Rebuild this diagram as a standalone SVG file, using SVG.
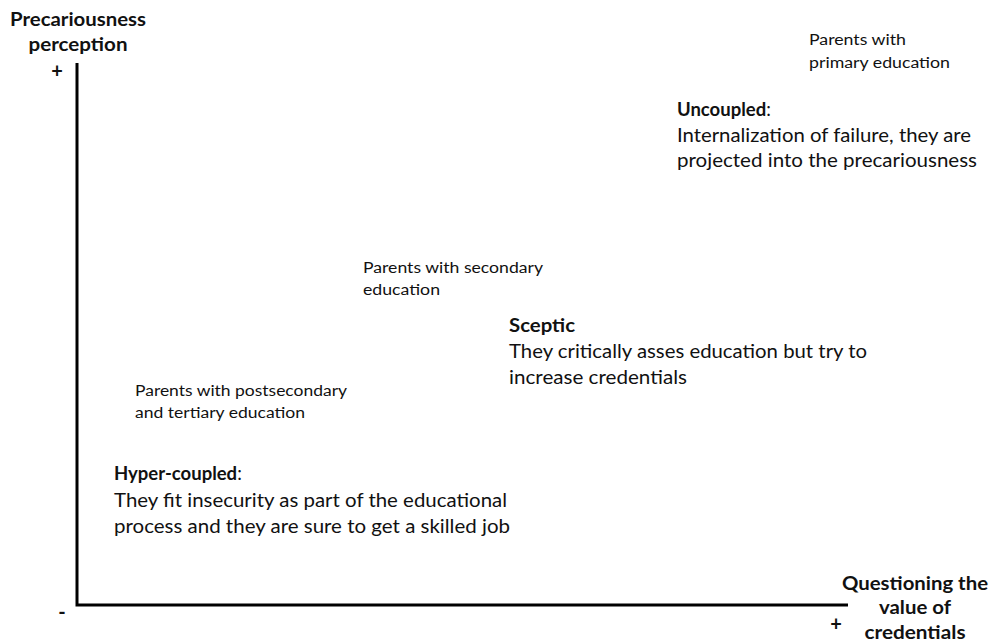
<svg xmlns="http://www.w3.org/2000/svg" width="990" height="643" viewBox="0 0 990 643">
<style>
text{font-family:Lato,"Open Sans","Liberation Sans",sans-serif;fill:#111}
.ax{font-weight:bold;font-size:19px;text-anchor:middle}
.sm{font-size:15.5px}
.hd{font-weight:bold;font-size:18.5px}
.bd{font-size:18.5px}
.sg{font-weight:bold;font-size:20px}
</style>
<rect width="990" height="643" fill="#fff"/>
<g id="axes">
<path d="M77,63 V605 H848" fill="none" stroke="#000" stroke-width="3"/>
</g>
<g id="y-axis-label">
<text class="ax" x="78" y="26" textLength="136" lengthAdjust="spacingAndGlyphs">Precariousness</text>
<text class="ax" x="78" y="51" textLength="99" lengthAdjust="spacingAndGlyphs">perception</text>
<text class="sg" x="57" y="78" text-anchor="middle">+</text>
<text class="sg" x="62" y="619" text-anchor="middle">-</text>
</g>
<g id="x-axis-label">
<text class="ax" x="915" y="590" textLength="146" lengthAdjust="spacingAndGlyphs">Questioning the</text>
<text class="ax" x="915" y="614" textLength="72" lengthAdjust="spacingAndGlyphs">value of</text>
<text class="ax" x="915" y="639" textLength="101" lengthAdjust="spacingAndGlyphs">credentials</text>
<text class="sg" x="836" y="631" text-anchor="middle">+</text>
</g>
<g id="uncoupled">
<text class="sm" x="809" y="45" textLength="97" lengthAdjust="spacingAndGlyphs">Parents with</text>
<text class="sm" x="809" y="68" textLength="141" lengthAdjust="spacingAndGlyphs">primary education</text>
<text x="677" y="116" class="bd"><tspan font-weight="bold">Uncoupled</tspan>:</text>
<text class="bd" x="677" y="142" textLength="294" lengthAdjust="spacingAndGlyphs">Internalization of failure, they are</text>
<text class="bd" x="677" y="167" textLength="300" lengthAdjust="spacingAndGlyphs">projected into the precariousness</text>
</g>
<g id="sceptic">
<text class="sm" x="363" y="273" textLength="180" lengthAdjust="spacingAndGlyphs">Parents with secondary</text>
<text class="sm" x="363" y="295" textLength="77" lengthAdjust="spacingAndGlyphs">education</text>
<text class="hd" x="509" y="332" textLength="66" lengthAdjust="spacingAndGlyphs">Sceptic</text>
<text class="bd" x="509" y="358" textLength="358" lengthAdjust="spacingAndGlyphs">They critically asses education but try to</text>
<text class="bd" x="509" y="384" textLength="178" lengthAdjust="spacingAndGlyphs">increase credentials</text>
</g>
<g id="hyper-coupled">
<text class="sm" x="135" y="396" textLength="212" lengthAdjust="spacingAndGlyphs">Parents with postsecondary</text>
<text class="sm" x="135" y="418" textLength="170" lengthAdjust="spacingAndGlyphs">and tertiary education</text>
<text x="114" y="480" class="bd"><tspan font-weight="bold">Hyper-coupled</tspan>:</text>
<text class="bd" x="114" y="507" textLength="393" lengthAdjust="spacingAndGlyphs">They fit insecurity as part of the educational</text>
<text class="bd" x="114" y="533" textLength="396" lengthAdjust="spacingAndGlyphs">process and they are sure to get a skilled job</text>
</g>
</svg>
